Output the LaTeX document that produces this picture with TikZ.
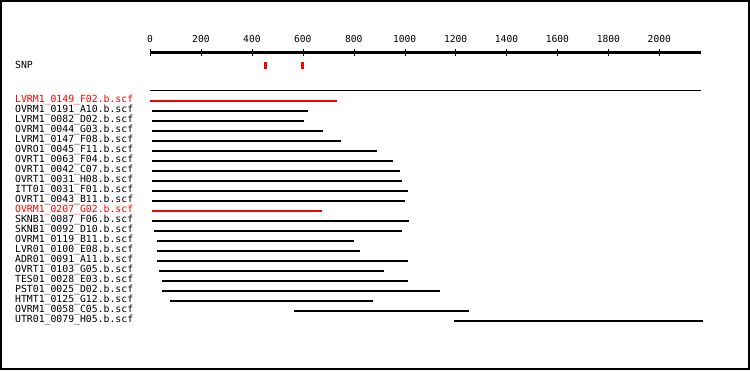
\documentclass[tikz,border=0pt]{standalone}
\usepackage{fontspec}
\setmonofont{DejaVu Sans Mono}
\tikzset{
  lbl/.style={anchor=base west, inner sep=0pt, font=\ttfamily\fontsize{9.8}{10}\selectfont},
  ticklbl/.style={anchor=base, inner sep=0pt, font=\ttfamily\fontsize{9.6}{10}\selectfont},
  bar/.style={line width=2pt},
  hit/.style={bar, red},
}
\begin{document}
\begin{tikzpicture}[x=1pt, y=-1pt]
            \useasboundingbox (0,0) rectangle (750,370);
            \fill[white] (0,0) rectangle (750,370);
            \draw[line width=2pt] (1,1) rectangle (749,369);

            % Define the nodes
            \node[ticklbl] (t0) at (150,42.5) {0};
            \node[ticklbl] (t200) at (200.9,42.5) {200};
            \node[ticklbl] (t400) at (251.9,42.5) {400};
            \node[ticklbl] (t600) at (302.8,42.5) {600};
            \node[ticklbl] (t800) at (353.7,42.5) {800};
            \node[ticklbl] (t1000) at (404.7,42.5) {1000};
            \node[ticklbl] (t1200) at (455.6,42.5) {1200};
            \node[ticklbl] (t1400) at (506.5,42.5) {1400};
            \node[ticklbl] (t1600) at (557.4,42.5) {1600};
            \node[ticklbl] (t1800) at (608.4,42.5) {1800};
            \node[ticklbl] (t2000) at (659.3,42.5) {2000};
            \node[lbl] (snp) at (15,68.3) {SNP};

            \node[lbl, red] (r1) at (15,102) {LVRM1\_0149\_F02.b.scf};
            \node[lbl] (r2) at (15,112) {OVRM1\_0191\_A10.b.scf};
            \node[lbl] (r3) at (15,122) {LVRM1\_0082\_D02.b.scf};
            \node[lbl] (r4) at (15,132) {OVRM1\_0044\_G03.b.scf};
            \node[lbl] (r5) at (15,142) {LVRM1\_0147\_F08.b.scf};
            \node[lbl] (r6) at (15,152) {OVRO1\_0045\_F11.b.scf};
            \node[lbl] (r7) at (15,162) {OVRT1\_0063\_F04.b.scf};
            \node[lbl] (r8) at (15,172) {OVRT1\_0042\_C07.b.scf};
            \node[lbl] (r9) at (15,182) {OVRT1\_0031\_H08.b.scf};
            \node[lbl] (r10) at (15,192) {ITT01\_0031\_F01.b.scf};
            \node[lbl] (r11) at (15,202) {OVRT1\_0043\_B11.b.scf};
            \node[lbl, red] (r12) at (15,212) {OVRM1\_0207\_G02.b.scf};
            \node[lbl] (r13) at (15,222) {SKNB1\_0087\_F06.b.scf};
            \node[lbl] (r14) at (15,232) {SKNB1\_0092\_D10.b.scf};
            \node[lbl] (r15) at (15,242) {OVRM1\_0119\_B11.b.scf};
            \node[lbl] (r16) at (15,252) {LVR01\_0100\_E08.b.scf};
            \node[lbl] (r17) at (15,262) {ADR01\_0091\_A11.b.scf};
            \node[lbl] (r18) at (15,272) {OVRT1\_0103\_G05.b.scf};
            \node[lbl] (r19) at (15,282) {TES01\_0028\_E03.b.scf};
            \node[lbl] (r20) at (15,292) {PST01\_0025\_D02.b.scf};
            \node[lbl] (r21) at (15,302) {HTMT1\_0125\_G12.b.scf};
            \node[lbl] (r22) at (15,312) {OVRM1\_0058\_C05.b.scf};
            \node[lbl] (r23) at (15,322) {UTR01\_0079\_H05.b.scf};

            % Draw the ruler
            \draw[line width=3pt] (150,52) -- (701,52);
            \draw (150,49) -- (150,56);
            \draw (200.9,49) -- (200.9,56);
            \draw (251.9,49) -- (251.9,56);
            \draw (302.8,49) -- (302.8,56);
            \draw (353.7,49) -- (353.7,56);
            \draw (404.7,49) -- (404.7,56);
            \draw (455.6,49) -- (455.6,56);
            \draw (506.5,49) -- (506.5,56);
            \draw (557.4,49) -- (557.4,56);
            \draw (608.4,49) -- (608.4,56);
            \draw (659.3,49) -- (659.3,56);
            % \draw (710.2,49) -- (710.2,56);

            % SNP marks
            \fill[red] (264.3,62) rectangle (266.7,68.7);
            \fill[red] (301.1,62) rectangle (303.5,68.7);
            \draw (150,90.5) -- (701,90.5);

            % Draw the reads
            \draw[hit] (150,101) -- (337,101);
            \draw[bar] (152,111) -- (308,111);
            \draw[bar] (152,121) -- (304,121);
            \draw[bar] (152,131) -- (323,131);
            \draw[bar] (152,141) -- (341,141);
            \draw[bar] (152,151) -- (377,151);
            \draw[bar] (152,161) -- (393,161);
            \draw[bar] (152,171) -- (400,171);
            \draw[bar] (152,181) -- (402,181);
            \draw[bar] (152,191) -- (408,191);
            \draw[bar] (152,201) -- (405,201);
            \draw[hit] (152,211) -- (322,211);
            \draw[bar] (152,221) -- (409,221);
            \draw[bar] (154,231) -- (402,231);
            \draw[bar] (157,241) -- (354,241);
            \draw[bar] (157,251) -- (360,251);
            \draw[bar] (157,261) -- (408,261);
            \draw[bar] (159,271) -- (384,271);
            \draw[bar] (162,281) -- (408,281);
            \draw[bar] (162,291) -- (440,291);
            \draw[bar] (170,301) -- (373,301);
            \draw[bar] (294,311) -- (469,311);
            \draw[bar] (454,321) -- (703,321);
            \end{tikzpicture}
\end{document}
